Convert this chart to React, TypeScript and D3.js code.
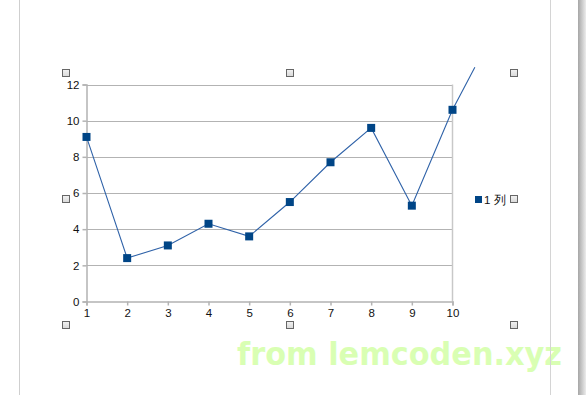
import { useEffect, useRef } from 'react'
import * as d3 from 'd3'

const xCategories = [1, 2, 3, 4, 5, 6, 7, 8, 9, 10]
const seriesValues = [9.1, 2.4, 3.1, 4.3, 3.6, 5.5, 7.7, 9.6, 5.3, 10.6]
const yTicks = [0, 2, 4, 6, 8, 10, 12]
// the rendered line runs past the last point (spreadsheet render quirk)
const lineTail = { x: 10.55, y: 12.95 }
const legendLabel = '1 列'
const watermark = 'from lemcoden.xyz'

const W = 586
const H = 395
const SERIES = '#004586'

export default function App() {
  const svgRef = useRef<SVGSVGElement>(null)

  useEffect(() => {
    if (!svgRef.current) return
    const svg = d3.select(svgRef.current)
    svg.selectAll('*').remove()

    const x = d3.scaleLinear().domain([1, 10]).range([86.5, 452.5])
    const y = d3.scaleLinear().domain([0, 12]).range([301.5, 84.5])
    const font = '"Liberation Sans", Arial, sans-serif'

    svg.append('rect').attr('width', W).attr('height', H).attr('fill', '#fff')

    // watermark sits under the page frame lines
    svg.append('text').attr('x', 237).attr('y', 365)
      .attr('font-size', 32).attr('font-weight', 'bold')
      .attr('font-family', '"DejaVu Sans", sans-serif')
      .attr('textLength', 325).attr('lengthAdjust', 'spacingAndGlyphs')
      .attr('fill', '#d9ffb3').text(watermark)

    // page frame
    svg.append('line').attr('x1', 19.5).attr('x2', 19.5).attr('y1', 0).attr('y2', H)
      .attr('stroke', '#cfcfcf')
    svg.append('line').attr('x1', 550.5).attr('x2', 550.5).attr('y1', 0).attr('y2', H)
      .attr('stroke', '#d4d4d4')
    const grad = svg.append('defs').append('linearGradient').attr('id', 'edge')
    grad.append('stop').attr('offset', '0%').attr('stop-color', '#a6a6a6')
    grad.append('stop').attr('offset', '100%').attr('stop-color', '#ececec')
    svg.append('rect').attr('x', 578).attr('y', 0).attr('width', 8).attr('height', H)
      .attr('fill', 'url(#edge)')

    // gridlines
    svg.append('g').selectAll('line').data(yTicks.slice(1)).join('line')
      .attr('x1', x(1)).attr('x2', x(10))
      .attr('y1', d => Math.round(y(d)) + 0.5).attr('y2', d => Math.round(y(d)) + 0.5)
      .attr('stroke', '#b3b3b3')

    // right border of plot
    svg.append('line').attr('x1', x(10)).attr('x2', x(10))
      .attr('y1', y(12)).attr('y2', y(0))
      .attr('stroke', '#c8c8c8').attr('stroke-width', 1.5)

    // y axis
    const yAxis = svg.append('g').attr('transform', `translate(${x(1)},0)`)
      .call(d3.axisLeft(y).tickValues(yTicks).tickSize(4).tickPadding(3))
    yAxis.select('.domain').attr('stroke', '#b3b3b3').attr('stroke-width', 1.5)
    yAxis.selectAll('.tick line').attr('stroke', '#b3b3b3').attr('stroke-width', 1.5)
    yAxis.selectAll('.tick text').attr('fill', '#111').attr('font-size', 11.5)
      .attr('font-family', font)

    // x axis
    const xAxis = svg.append('g').attr('transform', `translate(0,${y(0)})`)
      .call(d3.axisBottom(x).tickValues(xCategories).tickSize(4).tickPadding(3)
        .tickFormat(d3.format('d')))
    xAxis.select('.domain').attr('stroke', '#b3b3b3').attr('stroke-width', 1.5)
    xAxis.selectAll('.tick line').attr('stroke', '#b3b3b3').attr('stroke-width', 1.5)
    xAxis.selectAll('.tick text').attr('fill', '#111').attr('font-size', 11.5)
      .attr('font-family', font)

    // series line
    const pts = xCategories.map((c, i) => ({ x: c, y: seriesValues[i] })).concat([lineTail])
    const line = d3.line<{ x: number; y: number }>().x(d => x(d.x)).y(d => y(d.y))
    svg.append('path').datum(pts).attr('d', line)
      .attr('fill', 'none').attr('stroke', '#2f62a8').attr('stroke-width', 1.1)

    // markers
    svg.append('g').selectAll('rect').data(seriesValues).join('rect')
      .attr('x', (_, i) => x(xCategories[i]) - 4)
      .attr('y', d => y(d) - 4)
      .attr('width', 8).attr('height', 8)
      .attr('fill', SERIES)

    // legend
    svg.append('rect').attr('x', 475).attr('y', 196).attr('width', 7).attr('height', 7)
      .attr('fill', SERIES)
    svg.append('text').attr('x', 484).attr('y', 204).attr('font-size', 11.5)
      .attr('font-family', font).attr('fill', '#111').text(legendLabel)

    // selection handles
    const hx = [66, 290, 514]
    const hy = [73, 199, 325]
    const handles = hy.flatMap(yy => hx.map(xx => [xx, yy]))
      .filter(([xx, yy]) => !(xx === 290 && yy === 199))
    const hg = svg.append('defs').append('linearGradient').attr('id', 'hnd')
      .attr('x1', 0).attr('y1', 0).attr('x2', 0).attr('y2', 1)
    hg.append('stop').attr('offset', '0%').attr('stop-color', '#f2f2f2')
    hg.append('stop').attr('offset', '100%').attr('stop-color', '#d8d8d8')
    svg.append('g').selectAll('rect').data(handles).join('rect')
      .attr('x', d => d[0] - 3.5).attr('y', d => d[1] - 3.5)
      .attr('width', 7).attr('height', 7)
      .attr('fill', 'url(#hnd)').attr('stroke', '#666').attr('stroke-width', 1)
  }, [])

  return (
    <svg ref={svgRef} width={W} height={H}
      style={{ position: 'absolute', left: 0, top: 0, display: 'block' }} />
  )
}
